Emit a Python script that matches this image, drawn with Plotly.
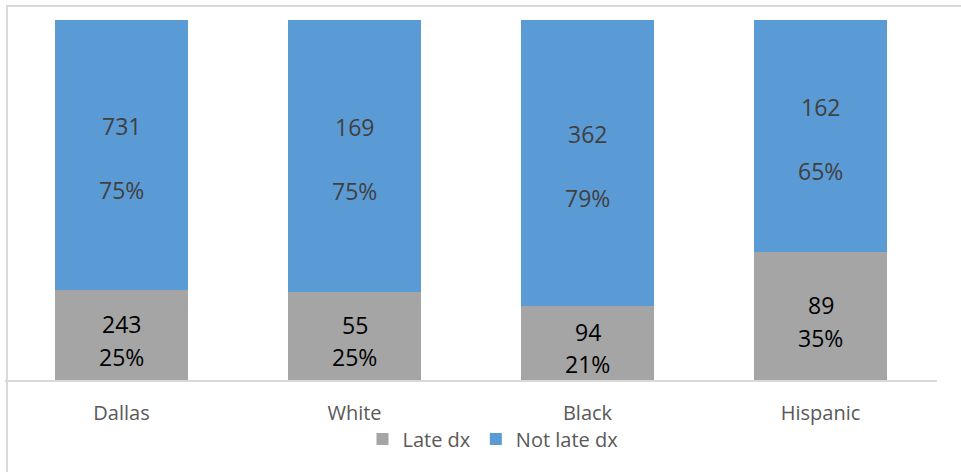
import plotly.graph_objects as go

categories = ["Dallas", "White", "Black", "Hispanic"]
late_dx = [243, 55, 94, 89]
not_late_dx = [731, 169, 362, 162]
late_pct_labels = ["25%", "25%", "21%", "35%"]
not_late_pct_labels = ["75%", "75%", "79%", "65%"]

GRAY = "#A5A5A5"
BLUE = "#5B9BD5"
FONT = "Open Sans"

fig = go.Figure()
fig.add_trace(go.Bar(name="Late dx", x=categories, y=late_dx, marker_color=GRAY,
                     marker_line_width=0, hoverinfo="skip"))
fig.add_trace(go.Bar(name="Not late dx", x=categories, y=not_late_dx, marker_color=BLUE,
                     marker_line_width=0, hoverinfo="skip"))

annotations = []
for i, cat in enumerate(categories):
    total = late_dx[i] + not_late_dx[i]
    late_share = 100.0 * late_dx[i] / total
    gray_mid = late_share / 2
    blue_mid = late_share + (100.0 - late_share) / 2
    for txt, y, shift, col in [
        (str(late_dx[i]), gray_mid, 11, "#000000"),
        (late_pct_labels[i], gray_mid, -21.5, "#000000"),
        (str(not_late_dx[i]), blue_mid, 29, "#404040"),
        (not_late_pct_labels[i], blue_mid, -35, "#404040"),
    ]:
        annotations.append(dict(x=cat, y=y, xref="x", yref="y", text=txt,
                                showarrow=False, yshift=shift,
                                font=dict(family=FONT, size=23, color=col)))

fig.update_layout(
    barmode="stack",
    barnorm="percent",
    bargap=0.43,
    width=961, height=472,
    margin=dict(l=5, r=24, t=20, b=92),
    paper_bgcolor="white",
    plot_bgcolor="white",
    font=dict(family=FONT, size=20, color="#595959"),
    showlegend=True,
    legend=dict(orientation="h", x=0.5236, xanchor="center", y=-0.164, yanchor="middle",
                font=dict(family=FONT, size=20, color="#595959"),
                traceorder="normal"),
    annotations=annotations,
    shapes=[dict(type="rect", xref="paper", yref="paper",
                 x0=0.0021, x1=1.1, y0=-0.4, y1=1.0389,
                 line=dict(color="#D9D9D9", width=2), layer="below")],
)
fig.update_xaxes(showline=True, linecolor="#D9D9D9", linewidth=2, ticks="",
                 ticklabelstandoff=14, tickfont=dict(family=FONT, size=20, color="#595959"),
                 showgrid=False)
fig.update_yaxes(range=[0, 100], visible=False, showgrid=False)

fig.write_html("out.html")
